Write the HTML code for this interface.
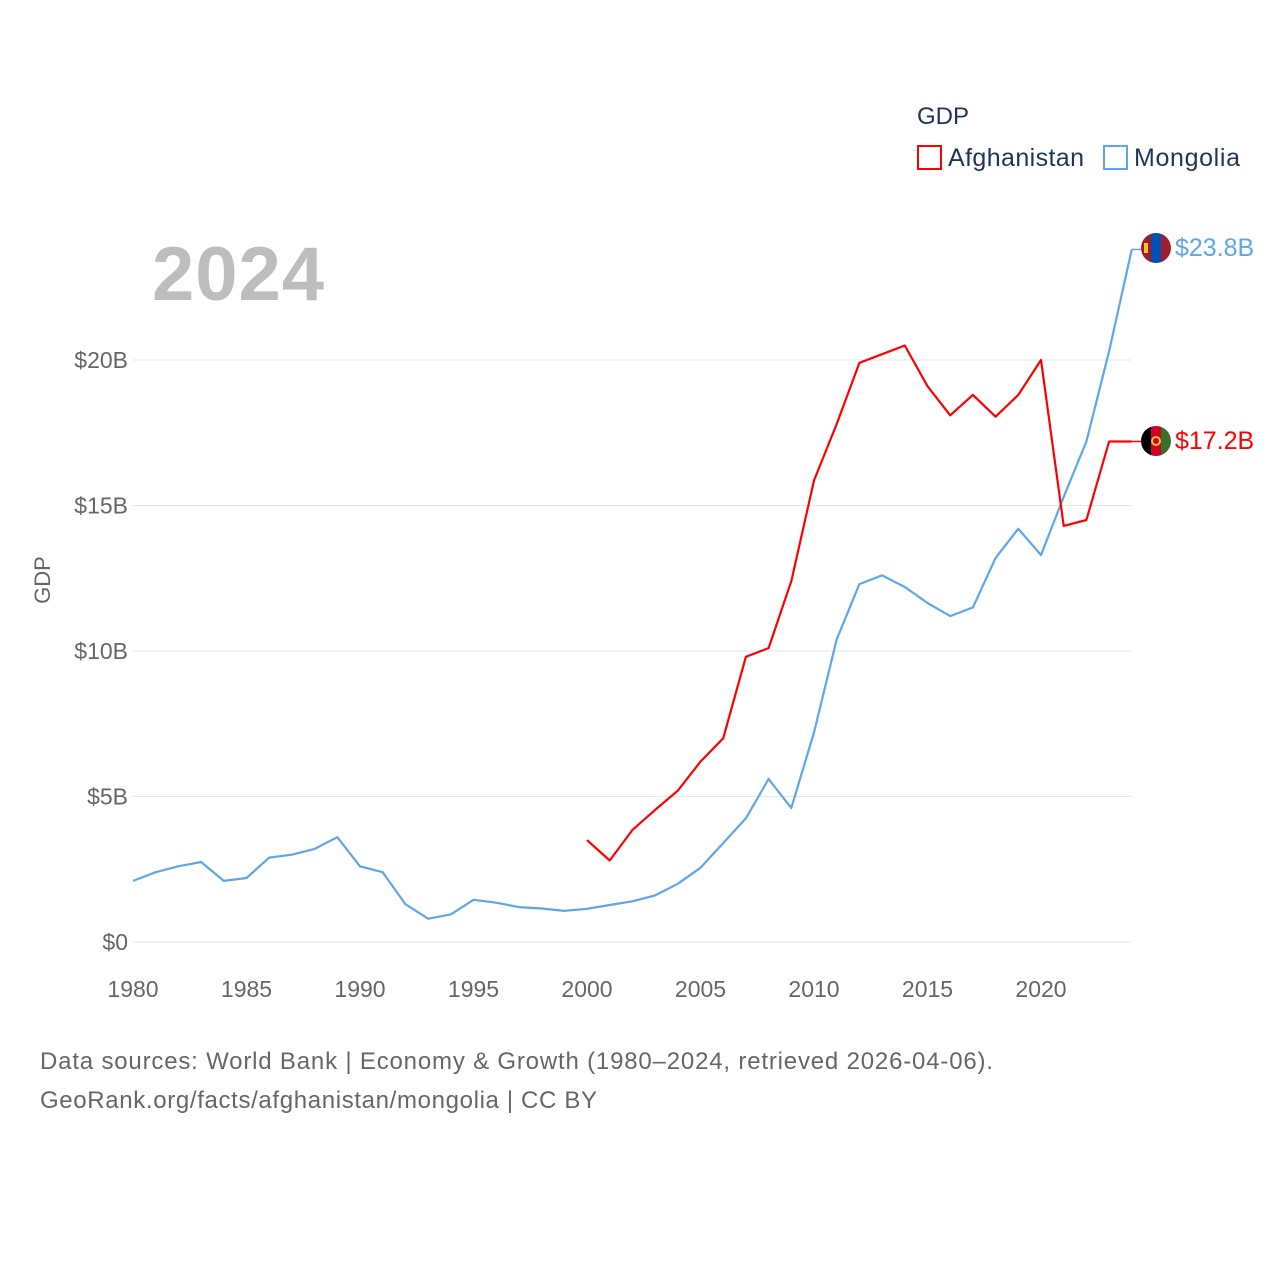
<!DOCTYPE html>
<html><head><meta charset="utf-8"><style>
html,body{margin:0;padding:0;background:#fff;}
svg{display:block;font-family:"Liberation Sans",sans-serif;}
</style></head><body>
<svg id="chart" width="1280" height="1280" viewBox="0 0 1280 1280">
<defs>
<clipPath id="cm"><circle cx="1156" cy="248" r="15"/></clipPath>
<clipPath id="ca"><circle cx="1156" cy="441" r="15"/></clipPath>
</defs>
<g id="grid"></g>
<g id="yticks"></g>
<g id="xticks"></g>
<text x="50" y="580" transform="rotate(-90 50 580)" text-anchor="middle" font-size="22" fill="#666">GDP</text>
<text x="152" y="300" font-size="76" font-weight="bold" fill="#bdbdbd" textLength="172">2024</text>
<g>
<text x="917" y="124" font-size="24" fill="#1d3557">GDP</text>
<g><rect x="918" y="146" width="23" height="23" fill="none" stroke="#f00" stroke-width="2"/><text x="948" y="166" font-size="25" fill="#1d3557" textLength="136">Afghanistan</text></g>
<g><rect x="1104" y="146" width="23" height="23" fill="none" stroke="#5ea6ea" stroke-width="2"/><text x="1134" y="166" font-size="25" fill="#1d3557" textLength="106">Mongolia</text></g>
</g>
<g id="series"></g>
<g clip-path="url(#cm)">
<rect x="1141" y="233" width="10" height="30" fill="#a01d2e"/><rect x="1151" y="233" width="10" height="30" fill="#0050b5"/><rect x="1161" y="233" width="10" height="30" fill="#a01d2e"/>
<rect x="1144" y="243" width="4" height="10" fill="#f4c430"/>
</g>
<g clip-path="url(#ca)">
<rect x="1141" y="426" width="10" height="30" fill="#000"/><rect x="1151" y="426" width="10" height="30" fill="#d00025"/><rect x="1161" y="426" width="10" height="30" fill="#3b6e2f"/>
<circle cx="1156" cy="441" r="4" fill="none" stroke="#f4c430" stroke-width="2"/>
</g>
<text x="1175" y="256" font-size="25" fill="#5ea6ea">$23.8B</text>
<text x="1175" y="449" font-size="25" fill="#f00">$17.2B</text>
<text x="40" y="1069" font-size="24" fill="#666" textLength="953">Data sources: World Bank | Economy &amp; Growth (1980–2024, retrieved 2026-04-06).</text>
<text x="40" y="1108" font-size="24" fill="#666" textLength="557">GeoRank.org/facts/afghanistan/mongolia | CC BY</text>
</svg>
<script>
const yearsMongolia=[1980,1981,1982,1983,1984,1985,1986,1987,1988,1989,1990,1991,1992,1993,1994,1995,1996,1997,1998,1999,2000,2001,2002,2003,2004,2005,2006,2007,2008,2009,2010,2011,2012,2013,2014,2015,2016,2017,2018,2019,2020,2021,2022,2023,2024];
const gdpMongolia=[2.1,2.4,2.6,2.75,2.1,2.2,2.9,3.0,3.2,3.6,2.6,2.4,1.3,0.8,0.95,1.45,1.35,1.2,1.15,1.07,1.14,1.27,1.4,1.6,2.0,2.55,3.4,4.25,5.6,4.6,7.2,10.4,12.3,12.6,12.2,11.65,11.2,11.5,13.2,14.2,13.3,15.3,17.2,20.3,23.8];
const yearsAfghanistan=[2000,2001,2002,2003,2004,2005,2006,2007,2008,2009,2010,2011,2012,2013,2014,2015,2016,2017,2018,2019,2020,2021,2022,2023,2024];
const gdpAfghanistan=[3.5,2.8,3.85,4.54,5.2,6.2,7.0,9.8,10.1,12.4,15.86,17.8,19.9,20.2,20.5,19.1,18.1,18.8,18.05,18.8,20.0,14.3,14.5,17.2,17.2];
const yTicks=[0,5,10,15,20];
const yTickLabels=["$0","$5B","$10B","$15B","$20B"];
const xTicks=[1980,1985,1990,1995,2000,2005,2010,2015,2020];

const NS="http://www.w3.org/2000/svg";
const X0=133,X1=1131.8,Y0=942,Y20=360;
const xs=y=>X0+(y-1980)*(X1-X0)/44;
const ys=v=>Y0-v*(Y0-Y20)/20;
function mk(tag,attrs,parent){const e=document.createElementNS(NS,tag);for(const k in attrs)e.setAttribute(k,attrs[k]);parent.appendChild(e);return e;}
const grid=document.getElementById('grid'),yt=document.getElementById('yticks'),xt=document.getElementById('xticks'),ser=document.getElementById('series');
yTicks.forEach((v,i)=>{
 const l=mk('line',{x1:133,x2:1131,y1:ys(v),y2:ys(v),stroke:'#e6e6e6','stroke-width':1},grid);
 
 
 const t=mk('text',{x:128,y:ys(v)+8,'text-anchor':'end','font-size':23,fill:'#666'},yt);
 t.textContent=yTickLabels[i];
 
 
});
xTicks.forEach(v=>{
 const t=mk('text',{x:xs(v),y:997,'text-anchor':'middle','font-size':23,fill:'#666'},xt);
 t.textContent=v;
 
 
});
function line(years,vals,color,name){
 const d=years.map((y,i)=>(i?'L':'M')+xs(y).toFixed(1)+','+ys(vals[i]).toFixed(1)).join(' ');
 const p=mk('path',{d:d,fill:'none',stroke:color,'stroke-width':2.2,'stroke-linejoin':'round'},ser);
 
 
 const lx=xs(years[years.length-1]),ly=ys(vals[vals.length-1]);
 const c=mk('path',{d:`M${lx},${ly} L1141,${ly}`,fill:'none',stroke:color,'stroke-width':1.5},ser);
 
 
}
line(yearsMongolia,gdpMongolia,'#5ea6ea','line-mongolia');
line(yearsAfghanistan,gdpAfghanistan,'#f00','line-afghanistan');
</script>
</body></html>
